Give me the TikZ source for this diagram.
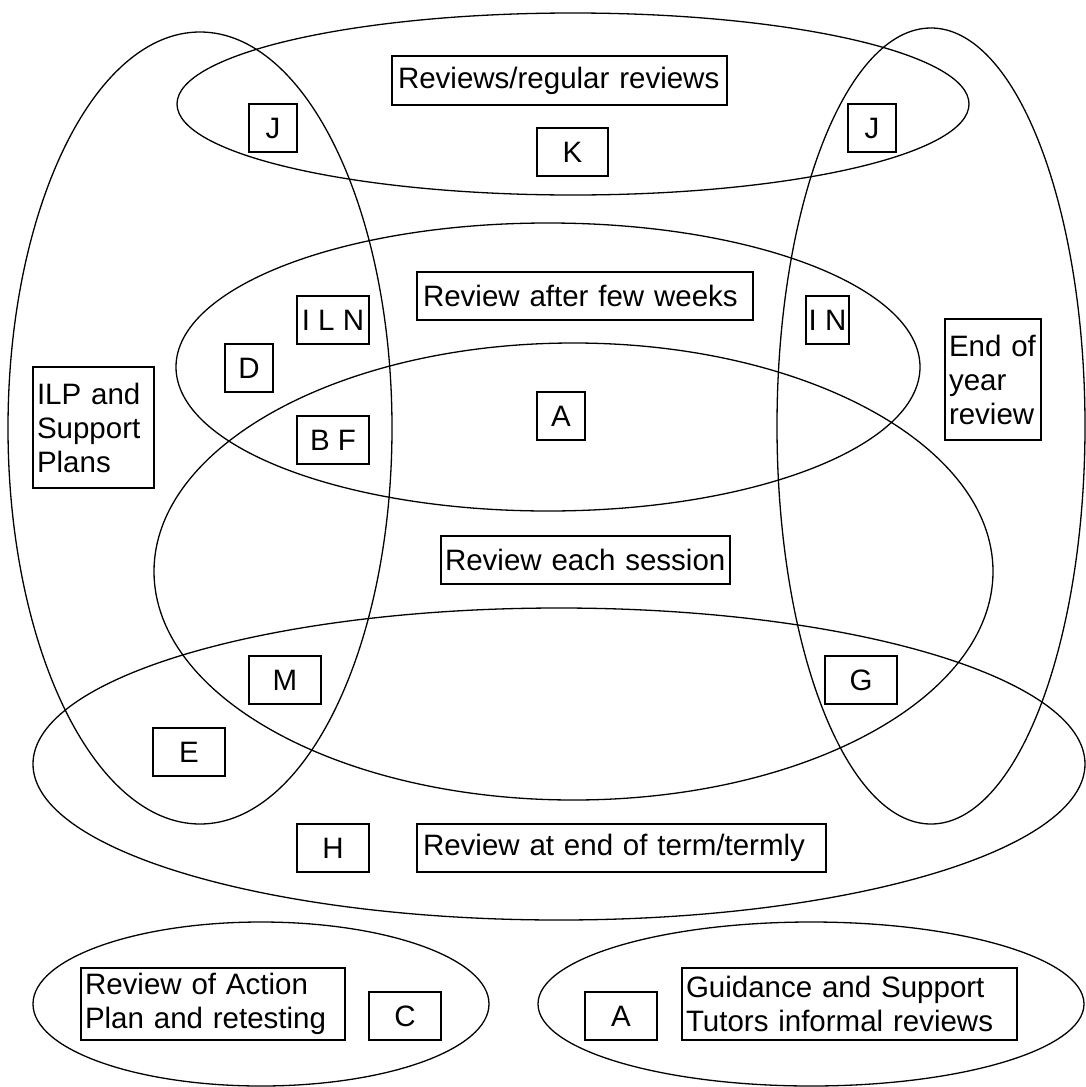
\documentclass[tikz,border=0pt]{standalone}
\usepackage{fontspec}
\setmainfont{Liberation Sans}
\newcommand\nohyph{\hyphenpenalty=10000 \exhyphenpenalty=10000 \relax}
\begin{document}
\begin{tikzpicture}[x=1pt,y=-1pt,
  ell/.style={draw=black, line width=1.3pt},
  box/.style={draw=black, fill=white, line width=1.3pt, inner sep=0pt,
    font=\fontsize{29.5}{34}\selectfont\nohyph},
  lbox/.style={box, align=left, inner xsep=4pt}]
\useasboundingbox (0,0) rectangle (1085,1087);
% ellipses
\draw[ell] (573,104) ellipse [x radius=396pt, y radius=91pt];
\draw[ell] (200,428) ellipse [x radius=192pt, y radius=396pt];
\draw[ell] (931,426) ellipse [x radius=154pt, y radius=398pt];
\draw[ell] (548,367) ellipse [x radius=372pt, y radius=144pt];
\draw[ell] (573.5,571.5) ellipse [x radius=419.5pt, y radius=228.5pt];
\draw[ell] (559,764) ellipse [x radius=526pt, y radius=156pt];
\draw[ell] (261,1004) ellipse [x radius=228pt, y radius=82pt];
\draw[ell] (811,1004) ellipse [x radius=273pt, y radius=82pt];
% boxes
\node[lbox, inner xsep=6pt, text width=323pt, minimum height=49pt] (rr) at (559.5,80.5) {Reviews/regular reviews};
\node[box, minimum width=48pt, minimum height=48pt] (J1) at (273,128) {J};
\node[box, minimum width=71pt, minimum height=48pt] (K) at (572.5,152) {K};
\node[box, minimum width=48pt, minimum height=48pt] (J2) at (872,128) {J};
\node[lbox, inner xsep=6pt, text width=324pt, minimum height=48pt] (raw) at (585,296) {Review after few weeks};
\node[box, minimum width=72pt, minimum height=48pt] (ILN) at (333,320) {I L N};
\node[box, minimum width=43pt, minimum height=48pt] (IN) at (827.5,320) {I N};
\node[box, minimum width=48pt, minimum height=48pt] (D) at (249,368) {D};
\node[box, minimum width=48pt, minimum height=48pt] (A1) at (561,416) {A};
\node[box, minimum width=72pt, minimum height=48pt] (BF) at (333,440) {B F};
\node[lbox, text width=113pt, minimum height=121pt] (ILP) at (93.5,427.5) {ILP and\\Support\\Plans};
\node[lbox, text width=88pt, minimum height=121pt] (EOY) at (993,379.5) {End of\\year\\review};
\node[lbox, text width=281pt, minimum height=48pt] (res) at (585.5,560) {Review each session};
\node[box, minimum width=72pt, minimum height=48pt] (M) at (285,680) {M};
\node[box, minimum width=72pt, minimum height=48pt] (G) at (861,680) {G};
\node[box, minimum width=72pt, minimum height=48pt] (E) at (189,752) {E};
\node[box, minimum width=72pt, minimum height=48pt] (H) at (333,848) {H};
\node[lbox, inner xsep=6pt, text width=397pt, minimum height=48pt] (term) at (621.5,848) {Review at end of term/termly};
\node[lbox, text width=256pt, minimum height=72pt] (rap) at (213,1004) {Review of Action\\Plan and retesting};
\node[box, minimum width=72pt, minimum height=48pt] (C) at (405,1016) {C};
\node[box, minimum width=72pt, minimum height=48pt] (A2) at (621,1016) {A};
\node[lbox, text width=327pt, minimum height=72pt] (gst) at (849.5,1004) {Guidance and Support\\Tutors informal reviews};
\end{tikzpicture}
\end{document}
